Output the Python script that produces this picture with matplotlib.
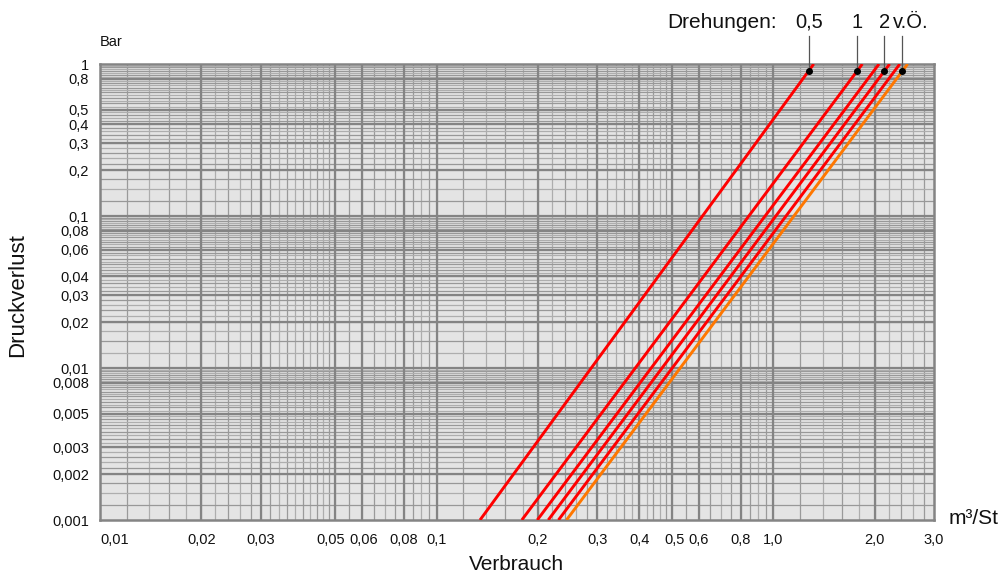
import numpy as np
import matplotlib
matplotlib.use("Agg")
import matplotlib.pyplot as plt
from matplotlib.transforms import blended_transform_factory, ScaledTranslation

plt.rcParams['font.family'] = ['Liberation Sans', 'DejaVu Sans']

# pressure drop range of each line (bar)
dp_ends = [0.001, 1.0]
# flow (m3/h) at dp = 0.001 and dp = 1.0 for each curve
q_low = [0.1345, 0.179, 0.199, 0.2145, 0.230, 0.243]
q_high = [1.318, 1.838, 2.060, 2.215, 2.375, 2.505]
line_colors = ['#ff0000', '#ff0000', '#ff0000', '#ff0000', '#ff0000', '#ff7700']

# labelled curves: index into the lines above
turn_labels = ['0,5', '1', '2', 'v.Ö.']
turn_index = [0, 1, 3, 5]
turn_dp = 0.9

x_ticks = [0.01, 0.02, 0.03, 0.05, 0.06, 0.08, 0.1, 0.2, 0.3, 0.4, 0.5, 0.6, 0.8, 1.0, 2.0, 3.0]
x_ticklabels = ['0,01', '0,02', '0,03', '0,05', '0,06', '0,08', '0,1', '0,2', '0,3', '0,4',
                '0,5', '0,6', '0,8', '1,0', '2,0', '3,0']
y_ticks = [1, 0.8, 0.5, 0.4, 0.3, 0.2, 0.1, 0.08, 0.06, 0.04, 0.03, 0.02, 0.01, 0.008,
           0.005, 0.003, 0.002, 0.001]
y_ticklabels = ['1', '0,8', '0,5', '0,4', '0,3', '0,2', '0,1', '0,08', '0,06', '0,04', '0,03',
                '0,02', '0,01', '0,008', '0,005', '0,003', '0,002', '0,001']

fig = plt.figure(figsize=(10.02, 5.76), dpi=100)
ax = fig.add_axes([100 / 1002, 56 / 576, 834 / 1002, 456 / 576])
ax.set_xscale('log')
ax.set_yscale('log')
ax.set_xlim(0.01, 3.0)
ax.set_ylim(0.001, 1.0)
ax.set_facecolor('#e4e4e4')

# graph-paper grid
def sub_lines(lo_dec, hi_dec, parts):
    vals = []
    for d in range(lo_dec, hi_dec + 1):
        for a, b, step in parts:
            for m in np.arange(a, b, step):
                vals.append(round(m * 10.0 ** d, 8))
    return vals

xg = sub_lines(-2, 0, [(1, 5, 0.2), (5, 10, 0.5)])
yg = sub_lines(-3, -1, [(1, 2, 0.25), (2, 5, 0.2), (5, 10, 0.25)])
for i, v in enumerate(xg):
    if 0.01 < v < 3.0:
        ax.axvline(v, color='#9a9a9a' if i % 2 else '#adadad', lw=0.9, zorder=1)
for i, v in enumerate(yg):
    if 0.001 < v < 1.0:
        ax.axhline(v, color='#989898' if i % 2 else '#aeaeae', lw=0.9, zorder=1)
for v in x_ticks[1:-1]:
    ax.axvline(v, color='#848484', lw=1.6, zorder=2)
for v in y_ticks[1:-1]:
    ax.axhline(v, color='#848484', lw=1.6, zorder=2)

for lo, hi, c in zip(q_low, q_high, line_colors):
    ax.plot([lo, hi], dp_ends, color=c, lw=2.1, solid_capstyle='butt', zorder=4)

ax.set_xticks(x_ticks)
ax.set_xticklabels(x_ticklabels)
ax.set_yticks(y_ticks)
ax.set_yticklabels(y_ticklabels)
ax.minorticks_off()
ax.tick_params(length=0, labelsize=10.5, colors='#111111')
ax.tick_params(axis='x', pad=9)
ax.tick_params(axis='y', pad=8)
xlabels = ax.get_xticklabels()
xlabels[0].set_horizontalalignment('left')
for s in ax.spines.values():
    s.set_color('#848484')
    s.set_linewidth(1.8)

fig.canvas.draw()
# nudge crowded x tick labels apart as in the original
for lbl, dx in [(xlabels[3], -5), (xlabels[4], 2), (xlabels[10], 3)]:
    lbl.set_transform(lbl.get_transform() + ScaledTranslation(dx / 100, 0, fig.dpi_scale_trans))

# turn markers and labels
bt = blended_transform_factory(ax.transData, fig.transFigure)
for lab, idx in zip(turn_labels, turn_index):
    t = np.log10(turn_dp / dp_ends[0]) / np.log10(dp_ends[1] / dp_ends[0])
    xd = 10 ** (np.log10(q_low[idx]) + t * (np.log10(q_high[idx]) - np.log10(q_low[idx])))
    ax.plot([xd, xd], [turn_dp, 1.0], color='#555555', lw=0.9, zorder=5, clip_on=False)
    fig.add_artist(plt.Line2D([xd, xd], [1.0 - 64 / 576, 1.0 - 36 / 576], transform=bt,
                              color='#555555', lw=0.9))
    ax.plot(xd, turn_dp, 'o', color='black', ms=4, zorder=6)
    px = ax.transData.transform((xd, turn_dp))[0]
    if lab == 'v.Ö.':
        px += 8
    fig.text(px / 1002, 1 - 22 / 576, lab, ha='center', va='center', fontsize=14.5,
             color='#111111')

fig.text(777 / 1002, 1 - 22 / 576, 'Drehungen:', ha='right', va='center', fontsize=15, color='#111111')
fig.text(100 / 1002, 1 - 42 / 576, 'Bar', ha='left', va='center', fontsize=10.5, color='#111111')
fig.text(18 / 1002, 1 - 295 / 576, 'Druckverlust', rotation=90, ha='center', va='center',
         fontsize=16, color='#111111')
fig.text(516 / 1002, 1 - 564 / 576, 'Verbrauch', ha='center', va='center', fontsize=15, color='#111111')
fig.text(949 / 1002, 1 - 518 / 576, 'm³/St', ha='left', va='center', fontsize=15, color='#111111')

fig.savefig('out.png', dpi=100)
